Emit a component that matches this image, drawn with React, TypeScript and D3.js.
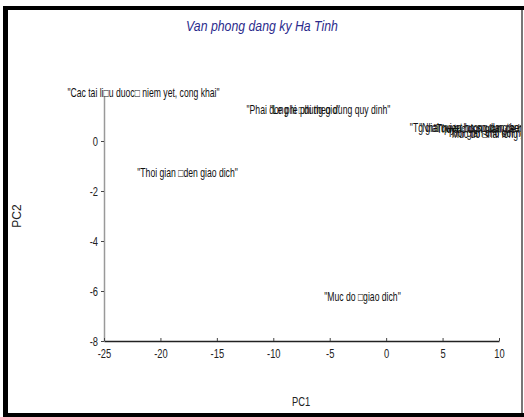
import React, { useEffect, useRef } from "react";
import * as d3 from "d3";

// PCA scores
const labels = [
  "\"Cac tai li\u25a1u duoc\u25a1 niem yet, cong khai\"",
  "\"Phai dong le phi theo dung quy dinh\"",
  "\"Le phi \u25a1dung gio\"",
  "\"Thoi gian \u25a1den giao dich\"",
  "\"Muc do \u25a1giao dich\"",
  "\"Tg giai quyet ho so dung hen\"",
  "\"Nhan vien huong dan tan tinh\"",
  "\"Thu tuc don gian, de hieu\"",
  "\"Thoi gian cho doi ngan\"",
  "\"Muc do \u25a1hai long chung\"",
];
const pc1 = [-21.5, -6.0, -7.2, -17.6, -2.1, 7.3, 8.2, 8.8, 9.3, 9.9];
const pc2 = [1.92, 1.24, 1.26, -1.28, -6.24, 0.52, 0.54, 0.5, 0.32, 0.3];

const xTicks = [-25, -20, -15, -10, -5, 0, 5, 10];
const yTicks = [0, -2, -4, -6, -8];

const W = 524;
const H = 417;
const font = "'Liberation Sans', Arial, sans-serif";
const SX = 0.72; // horizontal squeeze to mimic a narrow font

export default function App() {
  const ref = useRef<SVGSVGElement>(null);

  useEffect(() => {
    const svg = d3.select(ref.current);
    svg.selectAll("*").remove();

    const x = d3.scaleLinear().domain([-25, 10]).range([104, 499]);
    const y = d3.scaleLinear().domain([-8, 1.8]).range([341, 96]);

    // frame
    svg.append("rect").attr("x", 0).attr("y", 0).attr("width", W).attr("height", H).attr("fill", "#fff");
    svg.append("rect").attr("x", 3).attr("y", 6).attr("width", 5).attr("height", 411).attr("fill", "#000");
    svg.append("rect").attr("x", 3).attr("y", 6).attr("width", 521).attr("height", 4).attr("fill", "#000");
    svg.append("rect").attr("x", 3).attr("y", 413).attr("width", 521).attr("height", 4).attr("fill", "#000");
    svg.append("rect").attr("x", 521).attr("y", 10).attr("width", 2).attr("height", 403).attr("fill", "#777");

    svg.append("defs").append("clipPath").attr("id", "inner")
      .append("rect").attr("x", 8).attr("y", 10).attr("width", 513).attr("height", 403);

    // title
    svg.append("text")
      .attr("transform", "translate(262,31) scale(0.82,1)")
      .attr("text-anchor", "middle")
      .attr("font-family", font).attr("font-style", "italic")
      .attr("font-size", 15).attr("fill", "#2b2b8c")
      .text("Van phong dang ky Ha Tinh");

    // y axis
    const ya = svg.append("g")
      .attr("transform", `translate(${x(-25)},0)`)
      .call(d3.axisLeft(y).tickValues(yTicks).tickFormat((d) => String(d))
        .tickSize(3).tickSizeOuter(0).tickPadding(3));
    ya.select(".domain").attr("stroke", "#999").attr("stroke-width", 1.5);
    ya.selectAll(".tick line").attr("stroke", "#444");
    ya.selectAll(".tick text")
      .attr("font-family", font).attr("font-size", 13).attr("fill", "#222")
      .attr("x", -6 / SX)
      .attr("transform", `scale(${SX},1)`);

    // x axis
    const xa = svg.append("g")
      .attr("transform", `translate(0,${y(-8)})`)
      .call(d3.axisBottom(x).tickValues(xTicks).tickFormat((d) => String(d))
        .tickSize(-3).tickSizeOuter(0).tickPadding(8));
    xa.select(".domain").attr("stroke", "#222").attr("stroke-width", 1.5);
    xa.selectAll(".tick line").attr("stroke", "#444");
    xa.selectAll(".tick text")
      .attr("font-family", font).attr("font-size", 13).attr("fill", "#222")
      .attr("transform", `scale(${SX},1)`);

    // axis titles
    svg.append("text")
      .attr("transform", `translate(301,406) scale(${SX},1)`)
      .attr("text-anchor", "middle")
      .attr("font-family", font).attr("font-size", 13).attr("fill", "#222")
      .text("PC1");
    svg.append("text")
      .attr("transform", "translate(21,216) rotate(-90)")
      .attr("text-anchor", "middle")
      .attr("font-family", font).attr("font-size", 12).attr("fill", "#222")
      .text("PC2");

    // point labels
    const idx = d3.range(labels.length);
    svg.append("g").attr("clip-path", "url(#inner)")
      .selectAll("text")
      .data(idx)
      .join("text")
      .attr("transform", (i) => `translate(${x(pc1[i])},${y(pc2[i]) + 4}) scale(${SX},1)`)
      .attr("text-anchor", "middle")
      .attr("font-family", font)
      .attr("font-size", 12)
      .attr("fill", "#111")
      .text((i) => labels[i]);
  }, []);

  return (
    <svg
      ref={ref}
      width={W}
      height={H}
      style={{ position: "absolute", left: 0, top: 0 }}
    />
  );
}
